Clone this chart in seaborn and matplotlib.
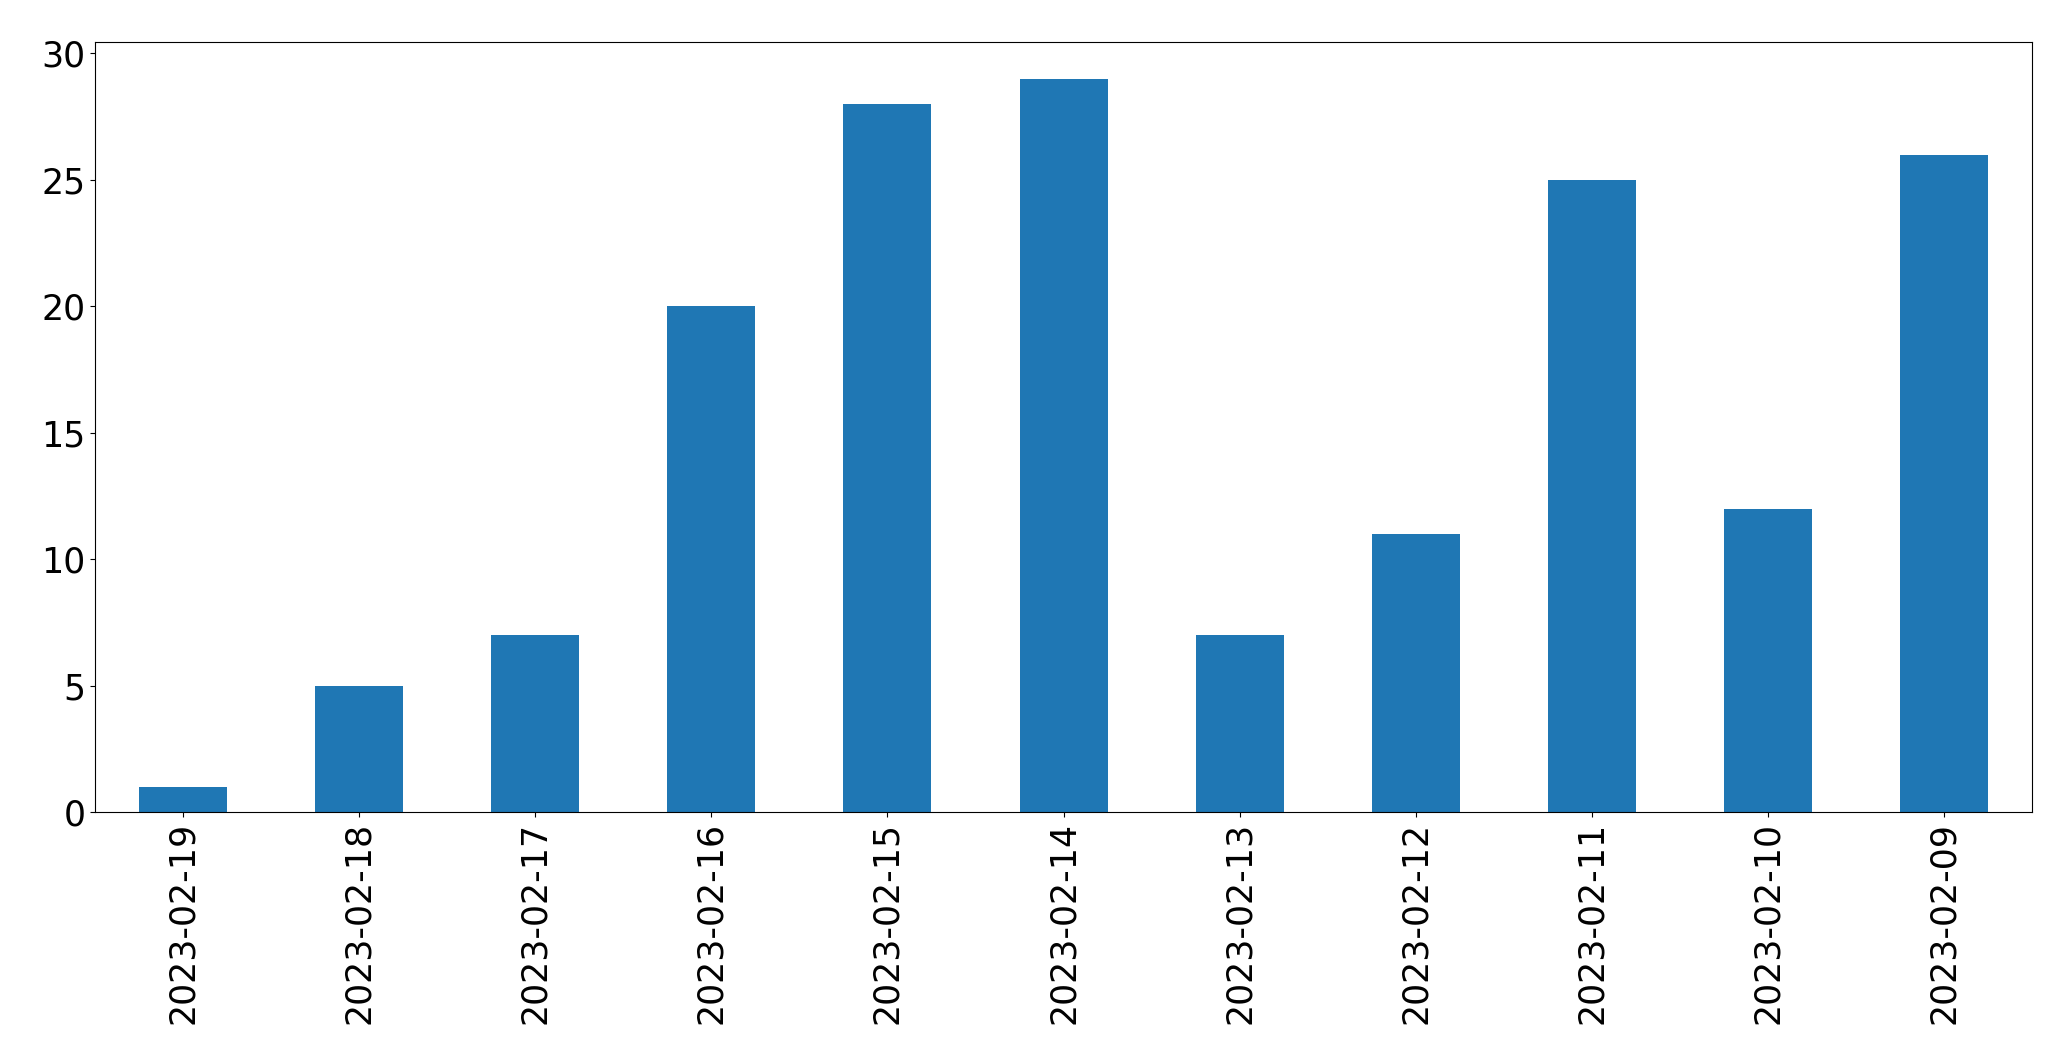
import pandas as pd
import seaborn as sns
import matplotlib
matplotlib.use("Agg")
import matplotlib.pyplot as plt

# Dados
datas = ['2023-02-19', '2023-02-18', '2023-02-17', '2023-02-16', '2023-02-15',
         '2023-02-14', '2023-02-13', '2023-02-12', '2023-02-11', '2023-02-10',
         '2023-02-09']
contagens = [1, 5, 7, 20, 28, 29, 7, 11, 25, 12, 26]

df = pd.DataFrame({'data': datas, 'contagem': contagens})

fig, ax = plt.subplots(figsize=(20.71, 10.64), dpi=100)
sns.barplot(data=df, x='data', y='contagem', color='#1f77b4',
            saturation=1, width=0.5, ax=ax)

ax.set_xlabel('')
ax.set_ylabel('')
ax.set_xlim(-0.5, len(datas) - 0.5)
ax.set_ylim(0, max(contagens) * 1.05)
ax.tick_params(axis='both', labelsize=25)
ax.tick_params(axis='x', labelrotation=90)

plt.subplots_adjust(left=0.0459, right=0.9812, top=0.9605, bottom=0.2368)
plt.savefig('out.png', dpi=100)
